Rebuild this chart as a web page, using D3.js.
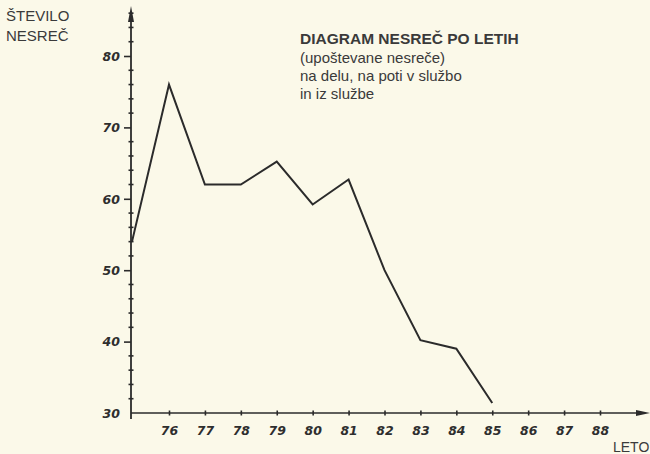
<!DOCTYPE html>
<html>
<head>
<meta charset="utf-8">
<script src="https://cdn.jsdelivr.net/npm/d3@7"></script>
<style>
  html, body { margin: 0; padding: 0; background: #fbf9e9; }
  svg { display: block; }
  .lbl { font-family: "Liberation Sans", Arial, sans-serif; fill: #3a3a3a; }
  .tick-lbl { font-family: "DejaVu Sans", sans-serif; font-style: italic; font-weight: bold; fill: #2e2e2e; }
</style>
</head>
<body>
<svg id="chart" width="650" height="454"></svg>
<script>
// podatki — leta in število nesreč
const years = [75, 76, 77, 78, 79, 80, 81, 82, 83, 84, 85];
const accidents = [54, 76, 62, 62, 65.2, 59.2, 62.7, 50, 40.2, 39, 31.4];
const xTickYears = [76, 77, 78, 79, 80, 81, 82, 83, 84, 85, 86, 87, 88];
const yTickValues = [30, 40, 50, 60, 70, 80];
const titleLines = ['(upoštevane nesreče)', 'na delu, na poti v službo', 'in iz službe'];

const svg = d3.select('#chart');
const ink = '#2b2b2b';

const x = d3.scaleLinear().domain([76, 88]).range([169, 600]);
const y = d3.scaleLinear().domain([30, 80]).range([413, 56]);
const x0 = 131, y0 = y(30);

// navpična os
const yAxis = d3.axisLeft(y).tickValues(yTickValues).tickSize(7);
const yMinor = d3.range(32, 88, 2).filter(v => v % 10 !== 0);

const gy = svg.append('g').attr('transform', `translate(${x0},0)`).call(yAxis);
gy.select('.domain').remove();
gy.selectAll('line').attr('stroke', ink).attr('stroke-width', 1.6);
gy.selectAll('text').attr('class', 'tick-lbl').attr('font-size', 12.5).attr('x', -11).attr('dy', '0.35em');
gy.selectAll('.tick').filter(d => d === 30).select('line').remove();

svg.append('g').selectAll('line').data(yMinor).enter().append('line')
  .attr('x1', x0 - 2.5).attr('x2', x0 + 2.5)
  .attr('y1', d => y(d)).attr('y2', d => y(d))
  .attr('stroke', ink).attr('stroke-width', 1.6);

svg.append('line').attr('x1', x0).attr('x2', x0).attr('y1', y0 + 6).attr('y2', 14)
  .attr('stroke', ink).attr('stroke-width', 1.8);
svg.append('path').attr('d', `M${x0},6 L${x0 - 3},22 L${x0 + 3},22 Z`).attr('fill', ink);

// vodoravna os
const xAxis = d3.axisBottom(x).tickValues(xTickYears).tickSize(0).tickPadding(13);
const gx = svg.append('g').attr('transform', `translate(0,${y0})`).call(xAxis);
gx.select('.domain').remove();
gx.selectAll('text').attr('class', 'tick-lbl').attr('font-size', 12.5);
gx.selectAll('.tick').append('line').attr('y1', -2.5).attr('y2', 2.5)
  .attr('stroke', ink).attr('stroke-width', 1.6);

svg.append('line').attr('x1', x0).attr('x2', 640).attr('y1', y0).attr('y2', y0)
  .attr('stroke', ink).attr('stroke-width', 1.6);
svg.append('path').attr('d', `M650,${y0} L636,${y0 - 3} L636,${y0 + 3} Z`).attr('fill', ink);

// krivulja (leto 75 leži na sami osi)
svg.append('path').datum(accidents)
  .attr('d', d3.line().x((d, i) => years[i] === 75 ? x0 + 1 : x(years[i])).y(d => y(d)))
  .attr('fill', 'none').attr('stroke', ink).attr('stroke-width', 2).attr('stroke-linejoin', 'miter');

// napisi
svg.append('text').attr('class', 'lbl').attr('x', 6).attr('y', 21).attr('font-size', 15).text('ŠTEVILO');
svg.append('text').attr('class', 'lbl').attr('x', 6).attr('y', 41).attr('font-size', 15).text('NESREČ');
svg.append('text').attr('class', 'lbl').attr('x', 613).attr('y', 452).attr('font-size', 14).text('LETO');

svg.append('text').attr('class', 'lbl').attr('x', 300).attr('y', 44)
  .attr('font-size', 15.5).attr('font-weight', 'bold').attr('fill', '#222').text('DIAGRAM NESREČ PO LETIH');
svg.append('g').selectAll('text').data(titleLines).enter().append('text')
  .attr('class', 'lbl').attr('x', 300).attr('y', (d, i) => 63 + i * 18).attr('font-size', 15).text(d => d);
</script>
</body>
</html>
